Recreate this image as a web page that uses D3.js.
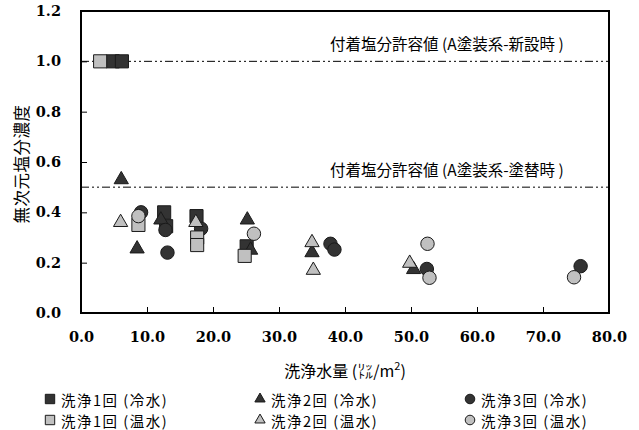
<!DOCTYPE html>
<html>
<head>
<meta charset="utf-8">
<script src="https://cdn.jsdelivr.net/npm/d3@7"></script>
<style>
    body { margin: 0; background: #fff; }
    text { fill: #000; }
</style>
</head>
<body>
<div id="chart"></div>
<script>
// axis ticks
const xTicks = [0, 10, 20, 30, 40, 50, 60, 70, 80];
const yTicks = [0, 0.2, 0.4, 0.6, 0.8, 1.0, 1.2];

// permissible salt limits
const limitValues = [1.0, 0.5];
const limitLabels = ["付着塩分許容値 (A塗装系-新設時 )", "付着塩分許容値 (A塗装系-塗替時 )"];

// series, [washing water (L/m2), dimensionless salt concentration]
const wash1Cold = [[4.8, 1.0], [6.2, 1.0], [12.6, 0.40], [12.9, 0.345], [17.5, 0.385], [25.1, 0.265]];
const wash2Cold = [[6.1, 0.53], [8.5, 0.255], [12.1, 0.37], [25.2, 0.37], [25.7, 0.25], [35.0, 0.24], [50.4, 0.173]];
const wash3Cold = [[9.1, 0.40], [12.8, 0.33], [13.1, 0.24], [18.2, 0.335], [37.8, 0.275], [38.4, 0.252], [52.4, 0.175], [75.7, 0.186]];
const wash1Warm = [[2.9, 1.0], [8.7, 0.35], [17.6, 0.30], [17.6, 0.27], [24.8, 0.227]];
const wash2Warm = [[6.0, 0.36], [17.4, 0.36], [35.0, 0.28], [35.2, 0.17], [49.8, 0.198]];
const wash3Warm = [[8.7, 0.385], [26.2, 0.315], [52.5, 0.275], [52.8, 0.14], [74.7, 0.142]];

const seriesLabels = ["洗浄1回 (冷水)", "洗浄2回 (冷水)", "洗浄3回 (冷水)",
                      "洗浄1回 (温水)", "洗浄2回 (温水)", "洗浄3回 (温水)"];

class SaltChart {
    constructor(parentContainer) {
        this.parentContainer = parentContainer;
        this.series = [wash1Cold, wash2Cold, wash3Cold, wash1Warm, wash2Warm, wash3Warm];
        this.initVis();
    }

    initVis() {
        let vis = this;

        vis.margin = { top: 11, right: 30, bottom: 117, left: 81 };
        vis.width = 639 - vis.margin.left - vis.margin.right;
        vis.height = 430 - vis.margin.top - vis.margin.bottom;

        vis.svg = d3.select("#" + vis.parentContainer)
            .append("svg")
            .attr("width", 639)
            .attr("height", 430);

        vis.chart = vis.svg.append("g")
            .attr("transform", `translate(${vis.margin.left}, ${vis.margin.top})`);

        vis.x = d3.scaleLinear().domain([0, 80]).range([0, vis.width]);
        vis.y = d3.scaleLinear().domain([0, 1.2]).range([vis.height, 0]);

        vis.shapes = [d3.symbolSquare, d3.symbolTriangle, d3.symbolCircle];
        vis.sizes = [172, 88, 142];
        vis.legendSizes = [88, 46, 72];
        vis.fills = ["#333333", "#c0c0c0"];

        vis.drawAxes();
        vis.drawLimits();
        vis.drawPoints();
        vis.drawLegend();
    }

    drawAxes() {
        let vis = this;
        let tickFont = "'DejaVu Serif', serif";

        let xAxis = d3.axisBottom(vis.x)
            .tickValues(xTicks)
            .tickSizeInner(-6)
            .tickSizeOuter(0)
            .tickPadding(19)
            .tickFormat(d3.format(".1f"));

        let yAxis = d3.axisLeft(vis.y)
            .tickValues(yTicks)
            .tickSizeInner(-6)
            .tickSizeOuter(0)
            .tickPadding(20)
            .tickFormat(d3.format(".1f"));

        let gx = vis.chart.append("g")
            .attr("transform", `translate(0, ${vis.height})`)
            .call(xAxis);
        let gy = vis.chart.append("g").call(yAxis);

        [gx, gy].forEach(g => {
            g.select(".domain").remove();
            g.selectAll(".tick line").attr("stroke", "#000");
            g.selectAll(".tick text")
                .style("font-family", tickFont)
                .style("font-size", "14.5px")
                .style("font-weight", "bold")
                .attr("fill", "#000");
        });

        // plot frame
        vis.chart.append("rect")
            .attr("width", vis.width)
            .attr("height", vis.height)
            .attr("fill", "none")
            .attr("stroke", "#000")
            .attr("stroke-width", 2);

        // axis titles
        let xTitle = vis.svg.append("text")
            .attr("x", 345)
            .attr("y", 377)
            .attr("text-anchor", "middle")
            .attr("fill", "#000")
            .style("font-family", "'Noto Sans CJK JP', sans-serif")
            .style("font-size", "16px");
        xTitle.append("tspan").text("洗浄水量 (㍑/m");
        xTitle.append("tspan").attr("dy", -7).style("font-size", "11px").text("2");
        xTitle.append("tspan").attr("dy", 7).text(")");

        vis.svg.append("text")
            .attr("transform", "translate(21, 164) rotate(-90)")
            .attr("text-anchor", "middle")
            .attr("dominant-baseline", "central")
            .attr("fill", "#000")
            .style("font-family", "'Noto Sans CJK JP', sans-serif")
            .style("font-size", "16.5px")
            .style("letter-spacing", "0.5px")
            .text("無次元塩分濃度");
    }

    drawLimits() {
        let vis = this;

        vis.chart.selectAll(".limit")
            .data(limitValues)
            .enter()
            .append("line")
            .attr("class", "limit")
            .attr("x1", 0)
            .attr("x2", vis.width)
            .attr("y1", d => vis.y(d))
            .attr("y2", d => vis.y(d))
            .attr("stroke", "#000")
            .attr("stroke-width", 1)
            .attr("stroke-dasharray", "8,3,2,3,2,3");

        vis.chart.selectAll(".limit-label")
            .data(limitValues)
            .enter()
            .append("text")
            .attr("class", "limit-label")
            .attr("x", 249)
            .attr("y", d => vis.y(d) - 18)
            .attr("dominant-baseline", "central")
            .style("font-family", "'Noto Sans CJK JP', sans-serif")
            .style("font-size", "15.5px")
            .text((d, i) => limitLabels[i]);
    }

    drawPoints() {
        let vis = this;

        vis.series.forEach((data, i) => {
            let sym = d3.symbol().type(vis.shapes[i % 3]).size(vis.sizes[i % 3]);
            vis.chart.append("g")
                .selectAll("path")
                .data(data)
                .enter()
                .append("path")
                .attr("d", sym)
                .attr("transform", d => `translate(${vis.x(d[0])}, ${vis.y(d[1])})`)
                .attr("fill", vis.fills[Math.floor(i / 3)])
                .attr("stroke", "#1a1a1a")
                .attr("stroke-width", 1);
        });
    }

    drawLegend() {
        let vis = this;
        let colX = [50, 260, 470];
        let rowY = [399, 420];

        let items = vis.svg.append("g")
            .selectAll("g")
            .data(seriesLabels)
            .enter()
            .append("g")
            .attr("transform", (d, i) => `translate(${colX[i % 3]}, ${rowY[Math.floor(i / 3)]})`);

        items.append("path")
            .attr("d", (d, i) => d3.symbol().type(vis.shapes[i % 3]).size(vis.legendSizes[i % 3])())
            .attr("fill", (d, i) => vis.fills[Math.floor(i / 3)])
            .attr("stroke", "#1a1a1a")
            .attr("stroke-width", 1);

        items.append("text")
            .attr("x", 11)
            .attr("dominant-baseline", "central")
            .style("font-family", "'Noto Sans CJK JP', sans-serif")
            .style("font-size", "14.5px")
            .style("letter-spacing", "1.5px")
            .text(d => d);
    }
}

new SaltChart("chart");
</script>
</body>
</html>
